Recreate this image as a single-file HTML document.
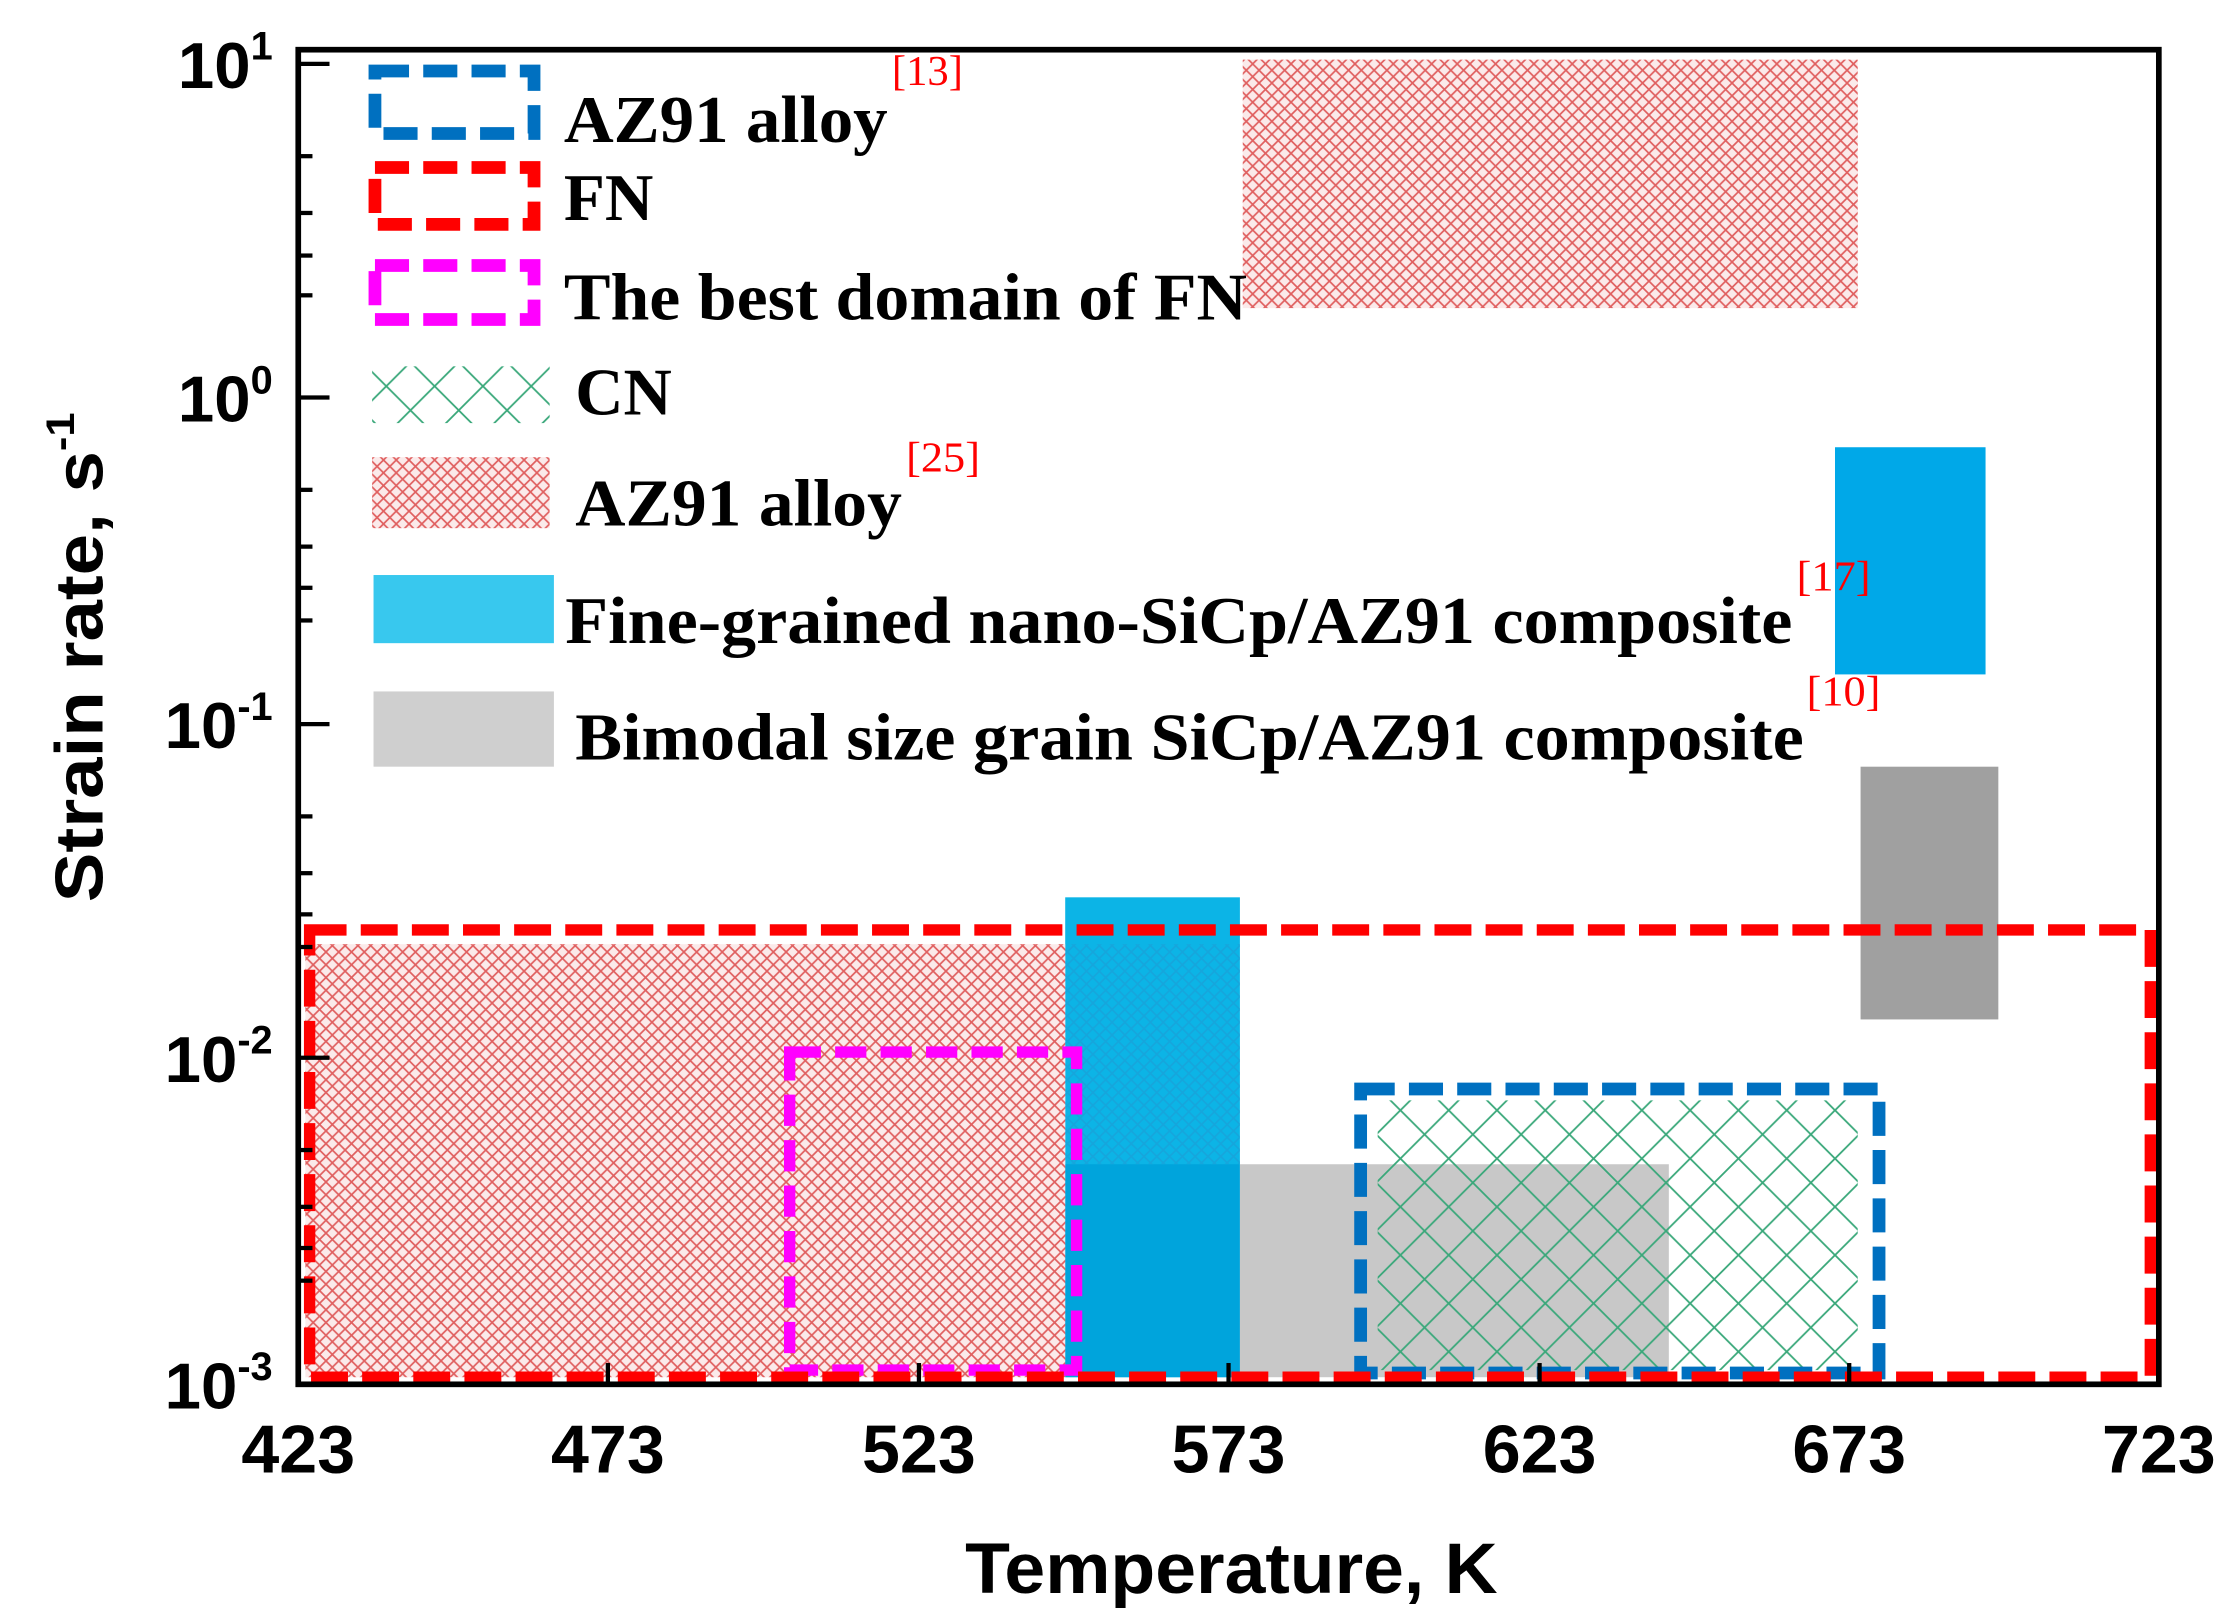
<!DOCTYPE html>
<html><head><meta charset="utf-8"><style>html,body{margin:0;padding:0;background:#fff}svg{display:block}</style></head>
<body>
<svg width="2227" height="1620" viewBox="0 0 1568 1141" preserveAspectRatio="none" xmlns="http://www.w3.org/2000/svg">
<defs>
<pattern id="rh" width="9" height="9" patternUnits="userSpaceOnUse">
<rect width="9" height="9" fill="#fbeaea"/>
<path d="M0 0L9 9M9 0L0 9" stroke="#e06060" stroke-width="1.2"/>
</pattern>
<pattern id="gh" width="34" height="34" patternUnits="userSpaceOnUse">
<path d="M0 0L34 34M34 0L0 34" stroke="#3aa87a" stroke-width="1.3" fill="none"/>
</pattern>
<pattern id="bh" width="9" height="9" patternUnits="userSpaceOnUse">
<path d="M0 0L9 9M9 0L0 9" stroke="#1aa0d8" stroke-width="1.2"/>
</pattern>
</defs>
<rect x="875" y="42" width="433" height="175" fill="url(#rh)"/>
<rect x="1292" y="315" width="106" height="160" fill="#00a8e8"/>
<rect x="1310" y="540" width="97" height="178" fill="#a0a0a0"/>
<rect x="750" y="632" width="123" height="338" fill="#0cb4e6"/>
<rect x="750" y="820" width="123" height="150" fill="#00a4dc"/>
<rect x="215" y="665" width="535" height="305" fill="url(#rh)"/>
<rect x="750" y="665" width="123" height="155" fill="url(#bh)" opacity="0.7"/>
<rect x="873" y="820" width="302" height="150" fill="#c8c8c8"/>
<rect x="970" y="775" width="338" height="190" fill="url(#gh)"/>
<rect x="556" y="741" width="202" height="224" fill="none" stroke="#ff00ff" stroke-width="8" stroke-dasharray="22,10"/>
<rect x="958" y="767" width="365" height="200" fill="none" stroke="#0070c0" stroke-width="9" stroke-dasharray="24,10"/>
<rect x="218" y="655" width="1296" height="315" fill="none" stroke="#ff0000" stroke-width="8" stroke-dasharray="26,10"/>
<rect x="210" y="35" width="1310" height="940" fill="none" stroke="#000" stroke-width="4"/>
<g stroke="#000" stroke-width="3">
<line x1="210" y1="45" x2="232" y2="45"/><line x1="210" y1="280" x2="232" y2="280"/>
<line x1="210" y1="510" x2="232" y2="510"/><line x1="210" y1="745" x2="232" y2="745"/>
<line x1="210" y1="110" x2="220" y2="110"/><line x1="210" y1="150" x2="220" y2="150"/><line x1="210" y1="180" x2="220" y2="180"/><line x1="210" y1="208" x2="220" y2="208"/>
<line x1="210" y1="345" x2="220" y2="345"/><line x1="210" y1="385" x2="220" y2="385"/><line x1="210" y1="414" x2="220" y2="414"/><line x1="210" y1="437" x2="220" y2="437"/>
<line x1="210" y1="575" x2="220" y2="575"/><line x1="210" y1="615" x2="220" y2="615"/><line x1="210" y1="644" x2="220" y2="644"/><line x1="210" y1="667" x2="220" y2="667"/>
<line x1="210" y1="810" x2="220" y2="810"/><line x1="210" y1="850" x2="220" y2="850"/><line x1="210" y1="879" x2="220" y2="879"/><line x1="210" y1="902" x2="220" y2="902"/>
<line x1="428" y1="975" x2="428" y2="960"/><line x1="647" y1="975" x2="647" y2="960"/><line x1="865" y1="975" x2="865" y2="960"/><line x1="1084" y1="975" x2="1084" y2="960"/><line x1="1302" y1="975" x2="1302" y2="960"/>
</g>
<g font-family="Liberation Sans, sans-serif" font-weight="bold" font-size="48" fill="#000" text-anchor="middle">
<text x="210" y="1037">423</text><text x="428" y="1037">473</text><text x="647" y="1037">523</text><text x="865" y="1037">573</text><text x="1084" y="1037">623</text><text x="1302" y="1037">673</text><text x="1520" y="1037">723</text>
<text x="867" y="1122" font-size="50" textLength="375" lengthAdjust="spacingAndGlyphs">Temperature, K</text>
</g>
<g font-family="Liberation Sans, sans-serif" font-weight="bold" font-size="46" fill="#000" text-anchor="end">
<text x="192" y="62">10<tspan font-size="28" dy="-20">1</tspan></text>
<text x="192" y="297">10<tspan font-size="28" dy="-20">0</tspan></text>
<text x="192" y="527">10<tspan font-size="28" dy="-20">-1</tspan></text>
<text x="192" y="762">10<tspan font-size="28" dy="-20">-2</tspan></text>
<text x="192" y="992">10<tspan font-size="28" dy="-20">-3</tspan></text>
</g>
<text transform="translate(72,463) rotate(-90)" font-family="Liberation Sans, sans-serif" font-weight="bold" font-size="48" text-anchor="middle" textLength="345" lengthAdjust="spacingAndGlyphs">Strain rate, s<tspan font-size="28" dy="-20">-1</tspan></text>
<rect x="264" y="50" width="112" height="44" fill="none" stroke="#0070c0" stroke-width="9" stroke-dasharray="24,10"/>
<rect x="264" y="118" width="112" height="40" fill="none" stroke="#ff0000" stroke-width="9" stroke-dasharray="24,10"/>
<rect x="264" y="187" width="112" height="38" fill="none" stroke="#ff00ff" stroke-width="9" stroke-dasharray="24,10"/>
<rect x="262" y="258" width="125" height="40" fill="url(#gh)"/>
<rect x="262" y="322" width="125" height="50" fill="url(#rh)"/>
<rect x="263" y="405" width="127" height="48" fill="#38c8ee"/>
<rect x="263" y="487" width="127" height="53" fill="#cfcfcf"/>
<g font-family="Liberation Serif, serif" font-weight="bold" font-size="47" fill="#000" lengthAdjust="spacingAndGlyphs">
<text x="397" y="100" textLength="228" lengthAdjust="spacingAndGlyphs">AZ91 alloy</text>
<text x="397" y="155" textLength="63" lengthAdjust="spacingAndGlyphs">FN</text>
<text x="397" y="225" textLength="481" lengthAdjust="spacingAndGlyphs">The best domain of FN</text>
<text x="405" y="292" textLength="68" lengthAdjust="spacingAndGlyphs">CN</text>
<text x="405" y="370" textLength="230" lengthAdjust="spacingAndGlyphs">AZ91 alloy</text>
<text x="398" y="453" textLength="864" lengthAdjust="spacingAndGlyphs">Fine-grained nano-SiCp/AZ91 composite</text>
<text x="405" y="535" textLength="865" lengthAdjust="spacingAndGlyphs">Bimodal size grain SiCp/AZ91 composite</text>
</g>
<g font-family="Liberation Serif, serif" font-size="30" fill="#ff0000">
<text x="628" y="60" textLength="50" lengthAdjust="spacingAndGlyphs">[13]</text>
<text x="638" y="332" textLength="52" lengthAdjust="spacingAndGlyphs">[25]</text>
<text x="1265" y="416" textLength="52" lengthAdjust="spacingAndGlyphs">[17]</text>
<text x="1272" y="497" textLength="52" lengthAdjust="spacingAndGlyphs">[10]</text>
</g>
</svg>
</body></html>
